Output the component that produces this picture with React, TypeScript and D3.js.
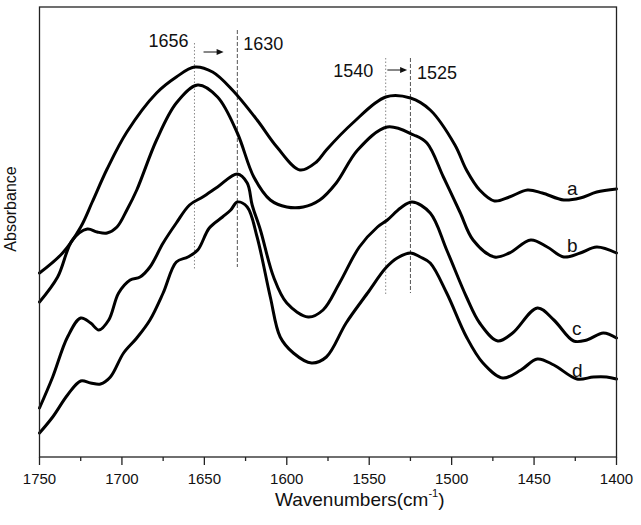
import * as d3 from 'd3'

// FTIR amide I / amide II region, four samples (a-d), arbitrary absorbance units
const majorTicks = [1750, 1700, 1650, 1600, 1550, 1500, 1450, 1400]
const minorTicks = [1725, 1675, 1625, 1575, 1525, 1475, 1425]

const curveA: [number, number][] = [
  [1750, 1.84], [1736, 2.04], [1725, 2.3], [1718, 2.55], [1709, 2.88], [1697, 3.25],
  [1679, 3.64], [1667, 3.8], [1656, 3.9], [1645, 3.85], [1633, 3.67], [1618, 3.37],
  [1606, 3.1], [1592, 2.87], [1582, 2.95], [1576, 3.07], [1560, 3.34], [1540, 3.6],
  [1525, 3.59], [1513, 3.47], [1498, 3.12], [1491, 2.87], [1483, 2.67], [1474, 2.56],
  [1465, 2.6], [1454, 2.67], [1445, 2.64], [1432, 2.57], [1422, 2.59], [1412, 2.65],
  [1400, 2.68],
]

const curveB: [number, number][] = [
  [1750, 1.55], [1739, 1.8], [1730, 2.17], [1721, 2.28], [1715, 2.25], [1709, 2.24],
  [1703, 2.3], [1697, 2.47], [1691, 2.67], [1679, 3.17], [1667, 3.54], [1654, 3.72],
  [1642, 3.6], [1630, 3.24], [1620, 2.8], [1610, 2.57], [1600, 2.5], [1590, 2.5],
  [1580, 2.57], [1570, 2.74], [1557, 3.07], [1539, 3.3], [1523, 3.22], [1515, 3.14],
  [1505, 2.8], [1495, 2.45], [1487, 2.17], [1474, 2.0], [1465, 2.04], [1452, 2.17],
  [1442, 2.1], [1432, 2.0], [1422, 2.04], [1412, 2.1], [1400, 2.04],
]

const curveC: [number, number][] = [
  [1750, 0.49], [1742, 0.8], [1733, 1.2], [1725, 1.39], [1719, 1.34], [1714, 1.27],
  [1708, 1.37], [1702, 1.64], [1695, 1.77], [1689, 1.8], [1683, 1.9], [1675, 2.14],
  [1667, 2.34], [1659, 2.52], [1651, 2.6], [1642, 2.7], [1630, 2.83], [1624, 2.74],
  [1621, 2.52], [1616, 2.27], [1608, 1.8], [1600, 1.54], [1587, 1.4], [1578, 1.47],
  [1568, 1.74], [1556, 2.1], [1545, 2.3], [1539, 2.37], [1531, 2.49], [1524, 2.55],
  [1513, 2.44], [1503, 2.07], [1491, 1.6], [1483, 1.34], [1472, 1.16], [1463, 1.24],
  [1448, 1.49], [1438, 1.37], [1426, 1.16], [1418, 1.17], [1408, 1.24], [1400, 1.19],
]

const curveD: [number, number][] = [
  [1750, 0.24], [1742, 0.4], [1733, 0.62], [1725, 0.76], [1719, 0.74], [1713, 0.73],
  [1707, 0.8], [1699, 1.04], [1691, 1.19], [1683, 1.37], [1675, 1.64], [1667, 1.95],
  [1660, 2.0], [1654, 2.07], [1647, 2.29], [1639, 2.4], [1634, 2.47], [1630, 2.55],
  [1624, 2.5], [1618, 2.2], [1610, 1.6], [1604, 1.2], [1596, 1.04], [1585, 0.94],
  [1576, 1.0], [1564, 1.34], [1551, 1.64], [1540, 1.89], [1533, 1.99], [1525, 2.04],
  [1519, 2.0], [1513, 1.94], [1503, 1.64], [1491, 1.2], [1481, 0.94], [1469, 0.79],
  [1458, 0.87], [1448, 0.98], [1438, 0.92], [1424, 0.78], [1414, 0.8], [1406, 0.8],
  [1400, 0.78],
]

const seriesNames = ['a', 'b', 'c', 'd']
const seriesData = [curveA, curveB, curveC, curveD]
// where each curve's letter sits (wavenumber, absorbance of baseline)
const seriesLabelAt: [number, number][] = [[1430, 2.62], [1430, 2.05], [1427, 1.22], [1427, 0.8]]

// peak shift markers
const peakWn = [1656, 1630, 1540, 1525]
const peakTop = [4.14, 4.27, 3.99, 3.99]
const peakBottom = [1.88, 1.9, 1.62, 1.64]
const peakDashed = [false, true, false, true]
const shiftArrows: [number, number, number][] = [[1650.5, 1638.3, 4.05], [1539, 1527, 3.87]]

const W = 641
const H = 525
const m = { left: 39.5, right: 24.5, top: 7, bottom: 68 }
const font = '"Liberation Sans", Arial, Helvetica, sans-serif'

export default function App() {
  const x = d3.scaleLinear().domain([1750, 1400]).range([m.left, W - m.right])
  const y = d3.scaleLinear().domain([0, 4.5]).range([H - m.bottom, m.top])

  const line = d3.line<[number, number]>()
    .x(d => x(d[0]))
    .y(d => y(d[1]))
    .curve(d3.curveCatmullRom.alpha(0.5))

  const bottom = H - m.bottom

  return (
    <svg width={W} height={H} style={{ position: 'absolute', left: 0, top: 0, background: '#fff' }}
      fontFamily={font}>
      {/* peak reference lines */}
      {peakWn.map((wn, i) => (
        <line key={'p' + wn} x1={x(wn)} x2={x(wn)} y1={y(peakTop[i])} y2={y(peakBottom[i])}
          stroke={peakDashed[i] ? '#555' : '#888'} strokeWidth={1}
          strokeDasharray={peakDashed[i] ? '4,2' : '1.5,2'} />
      ))}

      {/* spectra */}
      {seriesData.map((pts, i) => (
        <path key={seriesNames[i]} d={line(pts) || ''} fill="none" stroke="#000" strokeWidth={3}
          strokeLinejoin="round" strokeLinecap="round" />
      ))}

      {seriesNames.map((n, i) => (
        <text key={'l' + n} x={x(seriesLabelAt[i][0])} y={y(seriesLabelAt[i][1])} fontSize={19}
          fill="#111">{n}</text>
      ))}

      {/* peak labels */}
      <text x={x(1656) - 6} y={47} fontSize={18} textAnchor="end" fill="#111">1656</text>
      <text x={x(1630) + 6} y={50} fontSize={18} fill="#111">1630</text>
      <text x={x(1540) - 12.5} y={77} fontSize={18} textAnchor="end" fill="#111">1540</text>
      <text x={x(1525) + 6.5} y={79} fontSize={18} fill="#111">1525</text>

      {shiftArrows.map(([from, to, v], i) => {
        const x1 = x(from)
        const x2 = x(to)
        const yy = y(v)
        return (
          <g key={'arr' + i}>
            <line x1={x1} x2={x2 - 5} y1={yy} y2={yy} stroke="#111" strokeWidth={1} />
            <path d={`M${x2},${yy} L${x2 - 7},${yy - 3} L${x2 - 7},${yy + 3} Z`} fill="#111" />
          </g>
        )
      })}

      {/* frame */}
      <rect x={m.left} y={m.top} width={W - m.left - m.right} height={bottom - m.top}
        fill="none" stroke="#222" strokeWidth={1.3} />

      {/* x ticks */}
      {majorTicks.map(t => (
        <g key={'t' + t}>
          <line x1={x(t)} x2={x(t)} y1={bottom} y2={bottom + 8} stroke="#222" strokeWidth={1.3} />
          <text x={x(t)} y={bottom + 27} fontSize={15} textAnchor="middle" fill="#111">{t}</text>
        </g>
      ))}
      {minorTicks.map(t => (
        <line key={'mt' + t} x1={x(t)} x2={x(t)} y1={bottom} y2={bottom + 4} stroke="#222"
          strokeWidth={1.3} />
      ))}

      <text x={275} y={506} fontSize={19} fill="#111">
        Wavenumbers(cm<tspan fontSize={11} dy={-9}>-1</tspan><tspan dy={9}>)</tspan>
      </text>

      <text transform={`translate(16,209) rotate(-90)`} fontSize={16} textAnchor="middle"
        fill="#111">Absorbance</text>
    </svg>
  )
}
